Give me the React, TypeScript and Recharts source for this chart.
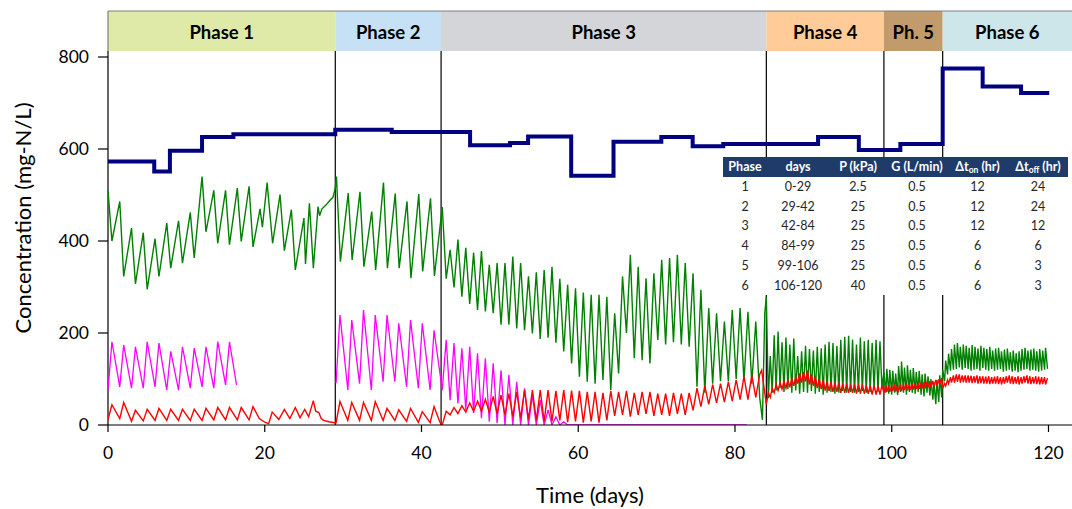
import React from 'react';
import { ComposedChart, Line, XAxis, YAxis, ReferenceArea, ReferenceLine } from 'recharts';

const FONT = 'Lato, "Open Sans", sans-serif';

// ---------- axes / phases ----------
const X_TICKS = [0, 20, 40, 60, 80, 100, 120];
const Y_TICKS = [0, 200, 400, 600, 800];
const PHASE_EDGES = [0, 29, 42.5, 84, 99, 106.5, 123];
const PHASE_NAMES = ['Phase 1', 'Phase 2', 'Phase 3', 'Phase 4', 'Ph. 5', 'Phase 6'];
const PHASE_COLORS = ['#dfeaa8', '#c6e0f5', '#d4d5d9', '#ffcc99', '#c29b6c', '#cde6e9'];
const PHASE_LINES = [29, 42.5, 84, 99, 106.5];

// ---------- cycle schedules: [start day, aeration-on (d), off (d)] ----------
const SCHED_1 = [0, 0.5, 1.0];
const SCHED_2G = [29.15, 0.5, 1.0];
const SCHED_2 = [29.1, 0.5, 1.0];
const SCHED_3 = [42.65, 0.5, 0.5];
const SCHED_4 = [84, 0.25, 0.25];
const SCHED_5 = [99, 0.25, 0.125];
const SCHED_6 = [106.5, 0.25, 0.125];

// ---------- step series (navy) ----------
const stepT = [0, 5.9, 7.9, 12, 16, 29, 36.2, 46.2, 51.3, 53.6, 59.1, 64.5, 70.6, 74.6, 78.5, 90.6, 95.8, 101.1, 106.5, 111.6, 116.5, 120.1];
const stepV = [573, 551, 596, 626, 632, 642, 637, 608, 613, 627, 542, 616, 626, 606, 611, 626, 598, 611, 775, 736, 722, 722];

// ---------- green series: [value at cycle start, value at end of aeration] ----------
const green1 = [[510, 400], [486, 323], [428, 307], [418, 295], [405, 323], [439, 341], [444, 352], [462, 363], [540, 420], [510, 395], [510, 392], [515, 399], [519, 387]];
const green1Tail = [[19.4, 470], [19.7, 430], [20.3, 527], [21.0, 395], [21.95, 501], [22.5, 379], [23.4, 468], [23.9, 337], [25.0, 450], [25.2, 350], [25.7, 482], [26.2, 341], [26.8, 475], [27.0, 455], [27.3, 470], [27.8, 478], [28.3, 488], [28.7, 495], [29.0, 515]];
const green2 = [[540, 355], [504, 359], [507, 344], [464, 337], [527, 341], [503, 341], [486, 319], [502, 334], [493, 324]];
const green3 = [
  [474, 318], [381, 299], [403, 279], [385, 263], [375, 250], [378, 247], [348, 243], [352, 218], [352, 218], [366, 210],
  [352, 206], [323, 199], [332, 187], [337, 190], [344, 179], [318, 160], [305, 134], [297, 105], [288, 94], [283, 90],
  [283, 98], [279, 76], [243, 112], [323, 200], [370, 145], [344, 141], [319, 134], [330, 185], [359, 175], [363, 180],
  [370, 175], [352, 170], [330, 83], [294, 70], [254, 90], [243, 95], [225, 95], [250, 100], [254, 95], [246, 90],
  [225, 60],
];
const green3Tail = [[83.5, 11], [83.8, 243]];
const green4 = [
  [279, 58], [150, 70], [195, 75], [203, 80], [180, 72], [190, 78], [175, 70], [188, 75], [150, 68], [160, 72],
  [172, 70], [165, 74], [162, 68], [170, 72], [167, 66], [175, 70], [181, 72], [178, 68], [172, 70], [185, 74],
  [192, 70], [194, 72], [186, 70], [175, 72], [190, 74], [182, 70], [185, 72], [178, 76], [185, 72], [182, 80],
];
const green5 = [[115, 70], [122, 68], [120, 66], [118, 70], [112, 65], [128, 72], [138, 70], [125, 66], [130, 72], [120, 70], [124, 68], [115, 72], [118, 66], [110, 62], [112, 70], [106, 64], [100, 55], [92, 45], [98, 50], [108, 60]];
const green6 = [
  [120, 95], [140, 110], [155, 118], [165, 120], [175, 122], [178, 125], [170, 120], [175, 124], [172, 122], [168, 118],
  [174, 120], [170, 122], [166, 118], [172, 124], [168, 120], [165, 118], [170, 122], [162, 118], [166, 120], [168, 122],
  [160, 116], [164, 118], [166, 120], [158, 116], [162, 118], [156, 115], [160, 118], [165, 120], [168, 122], [162, 118],
  [164, 120], [166, 118], [160, 116], [165, 118], [162, 120], [168, 122],
];

// ---------- red series: [value at cycle start, value at end of aeration] ----------
const red1 = [[12, 44], [14, 49], [8, 32], [9, 34], [10, 36], [10, 34], [10, 34], [10, 34], [10, 36], [11, 38], [11, 38], [11, 38], [11, 40]];
const red1Tail = [[19.3, 14], [20.0, 6], [20.5, 3], [20.95, 28], [21.8, 12], [22.5, 34], [23.2, 14], [23.9, 38], [24.5, 16], [25.1, 34], [25.6, 18], [26.2, 53], [26.5, 30], [26.9, 27], [27.2, 14], [27.5, 10], [28.2, 7], [28.9, 5]];
const red2 = [[5, 51], [10, 49], [10, 49], [10, 51], [10, 36], [10, 33], [8, 36], [6, 29], [5, 40]];
const red2Tail = [[42.3, 8], [42.55, 0]];
const red3 = [
  [0, 30], [22, 38], [25, 42], [28, 48], [30, 52], [30, 56], [28, 62], [25, 65], [22, 68], [18, 72],
  [15, 76], [12, 76], [10, 76], [8, 76], [8, 74], [10, 76], [6, 75], [8, 74], [5, 72], [8, 72],
  [5, 70], [10, 74], [20, 72], [22, 74], [18, 70], [22, 72], [24, 72], [20, 68], [22, 68], [20, 70],
  [24, 68], [22, 70], [32, 80], [40, 85], [45, 88], [48, 90], [50, 94], [52, 98], [55, 105], [55, 108],
  [60, 110],
];
const red3Tail = [[83.4, 119]];
const red4 = [
  [45, 70], [60, 80], [70, 88], [75, 92], [78, 95], [80, 98], [82, 100], [85, 105], [90, 112], [92, 115],
  [95, 118], [88, 110], [85, 105], [80, 100], [78, 98], [75, 95], [74, 94], [72, 92], [72, 92], [70, 90],
  [70, 90], [70, 88], [70, 88], [68, 88], [68, 88], [68, 86], [68, 86], [66, 86], [66, 85], [66, 86],
];
const red5 = [[70, 85], [72, 86], [72, 85], [74, 88], [73, 86], [75, 88], [74, 87], [76, 90], [75, 88], [76, 90], [77, 90], [78, 92], [78, 92], [80, 93], [80, 94], [82, 95], [82, 96], [84, 98], [85, 99], [88, 102]];
const red6 = [
  [80, 90], [85, 98], [90, 104], [92, 108], [92, 110], [94, 110], [92, 108], [93, 108], [92, 108], [92, 107],
  [91, 106], [92, 108], [90, 106], [91, 106], [90, 105], [90, 106], [89, 104], [90, 105], [90, 106], [89, 104],
  [88, 104], [90, 106], [92, 108], [90, 106], [89, 104], [90, 106], [88, 104], [90, 106], [92, 108], [90, 106],
  [89, 104], [90, 106], [89, 105], [88, 104], [89, 104], [88, 102],
];

// ---------- magenta series: [value at cycle start, value at end of aeration] ----------
const mag1 = [[76, 181], [83, 174], [80, 170], [80, 181], [83, 178], [76, 160], [76, 170], [80, 167], [83, 170], [80, 181], [87, 181]];
const mag1Tail = [[16.4, 87]];
const mag2 = [[91, 239], [76, 228], [90, 250], [76, 239], [94, 239], [94, 221], [83, 228], [80, 221], [76, 206]];
const mag3 = [[76, 185], [54, 178], [47, 167], [33, 170], [26, 156], [15, 145], [7, 134], [4, 119], [0, 109], [0, 94], [0, 80], [0, 65], [0, 54], [0, 33], [0, 18], [0, 7]];
const mag3Tail = [[58.65, 0], [81.5, 0]];

// ---------- inset table ----------
const TABLE_HEAD = [['Phase'], ['days'], ['P (kPa)'], ['G (L/min)'], ['\u0394t', 'on', ' (hr)'], ['\u0394t', 'off', ' (hr)']];
const TABLE_ROWS = [
  ['1', '0-29', '2.5', '0.5', '12', '24'],
  ['2', '29-42', '25', '0.5', '12', '24'],
  ['3', '42-84', '25', '0.5', '12', '12'],
  ['4', '84-99', '25', '0.5', '6', '6'],
  ['5', '99-106', '25', '0.5', '6', '3'],
  ['6', '106-120', '40', '0.5', '6', '3'],
];
const COL_WIDTHS = [44, 62, 58, 60, 61, 60];

type Pt = { t: number; v: number };

function cycles(sched: number[], pairs: number[][]): Pt[] {
  const [start, on, off] = sched;
  const out: Pt[] = [];
  pairs.forEach((p, k) => {
    const t0 = start + k * (on + off);
    out.push({ t: +t0.toFixed(4), v: p[0] });
    out.push({ t: +(t0 + on).toFixed(4), v: p[1] });
  });
  return out;
}
const pts = (arr: number[][]): Pt[] => arr.map(([t, v]) => ({ t, v }));

const stepData: Pt[] = stepT.map((t, i) => ({ t, v: stepV[i] }));
const greenData: Pt[] = [
  ...cycles(SCHED_1, green1), ...pts(green1Tail), ...cycles(SCHED_2G, green2), ...cycles(SCHED_3, green3),
  ...pts(green3Tail), ...cycles(SCHED_4, green4), ...cycles(SCHED_5, green5), ...cycles(SCHED_6, green6),
];
const redData: Pt[] = [
  ...cycles(SCHED_1, red1), ...pts(red1Tail), ...cycles(SCHED_2, red2), ...pts(red2Tail), ...cycles(SCHED_3, red3),
  ...pts(red3Tail), ...cycles(SCHED_4, red4), ...cycles(SCHED_5, red5), ...cycles(SCHED_6, red6),
];
const magData1: Pt[] = [...cycles(SCHED_1, mag1), ...pts(mag1Tail)];
const magData2: Pt[] = [...cycles(SCHED_2, mag2), ...cycles(SCHED_3, mag3), ...pts(mag3Tail)];

const HeaderLabel = (props: any) => {
  const vb = props.viewBox || {};
  const fs = 18.5;
  return (
    <text x={vb.x + vb.width / 2} y={vb.y + vb.height / 2 + 0.42 * fs} textAnchor="middle" fontSize={fs} fontWeight={700} fontFamily={FONT} fill="#000">
      {props.text}
    </text>
  );
};

const XTitle = (props: any) => {
  const vb = props.viewBox || {};
  return (
    <text x={vb.x + vb.width / 2} y={503} textAnchor="middle" fontSize={22} fontFamily={FONT} fill="#000">
      Time (days)
    </text>
  );
};

const YTitle = (props: any) => {
  const vb = props.viewBox || {};
  const cy = vb.y + vb.height / 2;
  return (
    <text x={22} y={cy} transform={`rotate(-90 22 ${cy})`} textAnchor="middle" dominantBaseline="central" fontSize={22} fontFamily={FONT} fill="#000">
      Concentration (mg-N/L)
    </text>
  );
};

export default function App() {
  return (
    <div style={{ position: 'absolute', left: 0, top: 0, width: 1072, height: 509, background: '#fff' }}>
      <ComposedChart width={1072} height={509} margin={{ top: 11, right: 0, bottom: 0, left: 0 }}>
        <XAxis
          type="number"
          dataKey="t"
          domain={[0, 123]}
          ticks={X_TICKS}
          allowDataOverflow
          height={84}
          tickSize={7}
          tickMargin={15}
          axisLine={{ stroke: '#000', strokeWidth: 1.2 }}
          tickLine={{ stroke: '#000', strokeWidth: 1.2 }}
          tick={{ fill: '#000', fontSize: 17.5, fontFamily: FONT }}
          label={<XTitle />}
        />
        <YAxis
          type="number"
          domain={[0, 900]}
          ticks={Y_TICKS}
          allowDataOverflow
          width={108}
          tickSize={10}
          tickMargin={9}
          axisLine={false}
          tickLine={{ stroke: '#000', strokeWidth: 1.2 }}
          tick={{ fill: '#000', fontSize: 17.5, fontFamily: FONT }}
          label={<YTitle />}
        />
        {PHASE_NAMES.map((name, i) => (
          <ReferenceArea
            key={name}
            x1={PHASE_EDGES[i]}
            x2={PHASE_EDGES[i + 1]}
            y1={813}
            y2={900}
            fill={PHASE_COLORS[i]}
            fillOpacity={1}
            stroke="none"
            label={<HeaderLabel text={name} />}
          />
        ))}
        <ReferenceLine segment={[{ x: 0, y: 900 }, { x: 123, y: 900 }]} stroke="#7f7f7f" strokeWidth={1.2} />
        <ReferenceLine segment={[{ x: 0, y: 813 }, { x: 0, y: 900 }]} stroke="#7f7f7f" strokeWidth={1.2} />
        <ReferenceLine segment={[{ x: 0, y: 0 }, { x: 0, y: 813 }]} stroke="#000" strokeWidth={1.2} />
        {PHASE_LINES.map((x) => (
          <ReferenceLine key={x} segment={[{ x, y: 0 }, { x, y: 813 }]} stroke="#000" strokeWidth={1.2} />
        ))}
        <Line data={greenData} dataKey="v" type="linear" stroke="#008000" strokeWidth={1.4} dot={false} isAnimationActive={false} />
        <Line data={magData1} dataKey="v" type="linear" stroke="#ff00ff" strokeWidth={1.3} dot={false} isAnimationActive={false} />
        <Line data={magData2} dataKey="v" type="linear" stroke="#ff00ff" strokeWidth={1.3} dot={false} isAnimationActive={false} />
        <Line data={redData} dataKey="v" type="linear" stroke="#ff0000" strokeWidth={1.4} dot={false} isAnimationActive={false} />
        <Line data={stepData} dataKey="v" type="stepAfter" stroke="#000080" strokeWidth={4} dot={false} isAnimationActive={false} />
      </ComposedChart>
      <div style={{ position: 'absolute', left: 723, top: 157, width: 345, background: '#fff' }}>
        <table style={{ borderCollapse: 'collapse', tableLayout: 'fixed', width: 345, fontFamily: FONT, fontSize: 12.5 }}>
          <colgroup>
            {COL_WIDTHS.map((w, i) => (
              <col key={i} style={{ width: w }} />
            ))}
          </colgroup>
          <thead>
            <tr style={{ height: 20, background: '#1f3b6a' }}>
              {TABLE_HEAD.map((h, i) => (
                <th key={i} style={{ padding: 0, color: '#fff', fontWeight: 700, textAlign: 'center', lineHeight: '20px', whiteSpace: 'nowrap' }}>
                  {h[0]}
                  {h[1] ? <sub style={{ fontSize: '0.68em', verticalAlign: '-0.25em', lineHeight: 0 }}>{h[1]}</sub> : null}
                  {h[2] || ''}
                </th>
              ))}
            </tr>
          </thead>
          <tbody>
            {TABLE_ROWS.map((r, i) => (
              <tr key={i} style={{ height: 19.7 }}>
                {r.map((c, j) => (
                  <td key={j} style={{ padding: 0, textAlign: 'center', color: '#262626', lineHeight: '19.7px' }}>
                    {c}
                  </td>
                ))}
              </tr>
            ))}
          </tbody>
        </table>
      </div>
    </div>
  );
}
